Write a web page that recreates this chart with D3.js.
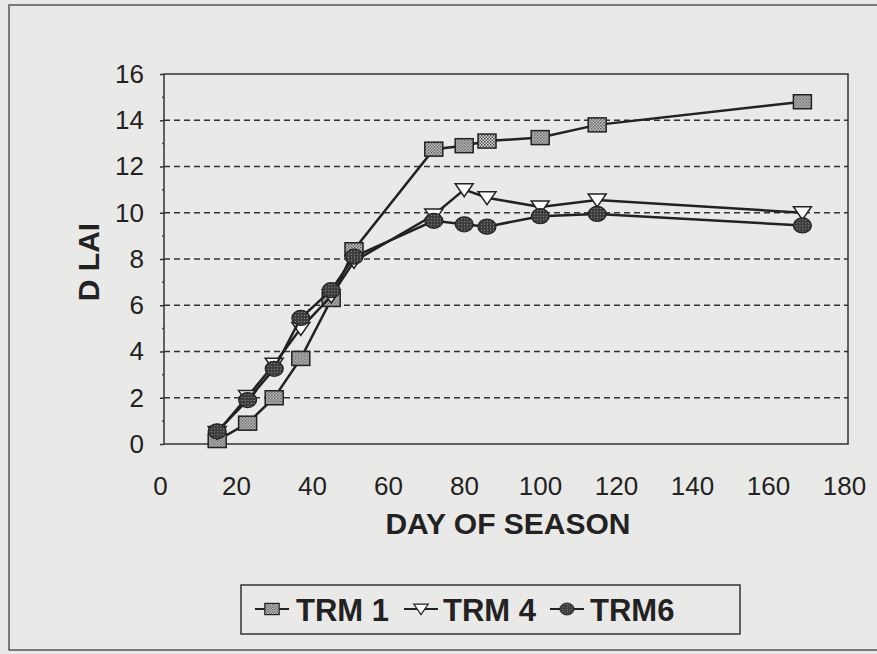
<!DOCTYPE html>
<html>
<head>
<meta charset="utf-8">
<script src="https://cdn.jsdelivr.net/npm/d3@7"></script>
<style>
  body { margin: 0; background: #e9e9e7; }
  svg { display: block; }
</style>
</head>
<body>
<div id="chart"></div>
<script>
// Data
const days = [14, 22, 29, 36, 44, 50, 71, 79, 85, 99, 114, 168];
const trm1 = [0.15, 0.9, 2.0, 3.7, 6.25, 8.4, 12.75, 12.9, 13.1, 13.25, 13.8, 14.8];
const trm4 = [0.5, 2.05, 3.45, 5.0, 6.4, 7.9, 9.9, 11.0, 10.65, 10.25, 10.55, 10.0];
const trm6 = [0.55, 1.9, 3.25, 5.45, 6.65, 8.1, 9.65, 9.5, 9.4, 9.85, 9.95, 9.45];
const seriesNames = ['TRM 1', 'TRM 4', 'TRM6'];
const xTicks = [0, 20, 40, 60, 80, 100, 120, 140, 160, 180];
const yTicks = [0, 2, 4, 6, 8, 10, 12, 14, 16];

const width = 877, height = 654;
const plot = { left: 164, top: 74, right: 848, bottom: 444 };
const ink = '#222';

const svg = d3.select('#chart')
    .append('svg')
    .attr('width', width)
    .attr('height', height);

// Fill patterns for the markers
const defs = svg.append('defs');
const sq = defs.append('pattern')
    .attr('id', 'sqfill')
    .attr('width', 3).attr('height', 3)
    .attr('patternUnits', 'userSpaceOnUse');
sq.append('rect').attr('width', 3).attr('height', 3).attr('fill', '#e4e4e2');
sq.append('rect').attr('width', 1.5).attr('height', 1.5).attr('fill', '#3a3a3a');
sq.append('rect').attr('x', 1.5).attr('y', 1.5).attr('width', 1.5).attr('height', 1.5).attr('fill', '#555');

const ci = defs.append('pattern')
    .attr('id', 'cifill')
    .attr('width', 3).attr('height', 3)
    .attr('patternUnits', 'userSpaceOnUse');
ci.append('rect').attr('width', 3).attr('height', 3).attr('fill', '#3c3c3c');
ci.append('rect').attr('width', 1).attr('height', 1).attr('fill', '#9a9a9a');

// Outer frame
svg.append('rect')
    .attr('x', 9).attr('y', 5)
    .attr('width', width + 10).attr('height', 645)
    .attr('fill', 'none')
    .attr('stroke', '#555')
    .attr('stroke-width', 1.5);

// Scales
const x = d3.scaleLinear().domain([0, 180]).range([plot.left, plot.right]);
const y = d3.scaleLinear().domain([0, 16]).range([plot.bottom, plot.top]);

// Dashed gridlines
svg.append('g')
    .selectAll('line')
    .data(yTicks.filter(v => v > 0 && v < 16))
    .enter()
    .append('line')
    .attr('x1', plot.left).attr('x2', plot.right)
    .attr('y1', d => y(d)).attr('y2', d => y(d))
    .attr('stroke', '#333')
    .attr('stroke-width', 1.5)
    .attr('stroke-dasharray', '6,4');

// Plot box
svg.append('rect')
    .attr('x', plot.left).attr('y', plot.top)
    .attr('width', plot.right - plot.left)
    .attr('height', plot.bottom - plot.top)
    .attr('fill', 'none')
    .attr('stroke', '#333')
    .attr('stroke-width', 1.5);

// Y axis
const yAxis = svg.append('g')
    .attr('transform', `translate(${plot.left},0)`)
    .call(d3.axisLeft(y).tickValues(yTicks).tickSize(4).tickPadding(16));
yAxis.select('.domain').remove();
yAxis.selectAll('line').attr('stroke', '#333').attr('stroke-width', 1.5);
yAxis.selectAll('text')
    .attr('font-family', 'Liberation Sans, Arial, sans-serif')
    .attr('font-size', '26px')
    .attr('fill', ink);

// minor ticks on y
svg.append('g')
    .selectAll('line')
    .data(d3.range(1, 16, 2))
    .enter()
    .append('line')
    .attr('x1', plot.left - 2).attr('x2', plot.left)
    .attr('y1', d => y(d)).attr('y2', d => y(d))
    .attr('stroke', '#444')
    .attr('stroke-width', 1.5);

// X axis (labels only, as in the figure)
const xAxis = svg.append('g')
    .attr('transform', `translate(-4,${plot.bottom})`)
    .call(d3.axisBottom(x).tickValues(xTicks).tickSize(0).tickPadding(33));
xAxis.select('.domain').remove();
xAxis.selectAll('text')
    .attr('font-family', 'Liberation Sans, Arial, sans-serif')
    .attr('font-size', '26px')
    .attr('fill', ink);

// Axis titles
svg.append('text')
    .attr('x', 508).attr('y', 534)
    .attr('text-anchor', 'middle')
    .attr('font-family', 'Liberation Sans, Arial, sans-serif')
    .attr('font-weight', 'bold')
    .attr('font-size', '30px')
    .attr('fill', ink)
    .text('DAY OF SEASON');

svg.append('text')
    .attr('transform', 'translate(99,262) rotate(-90)')
    .attr('text-anchor', 'middle')
    .attr('font-family', 'Liberation Sans, Arial, sans-serif')
    .attr('font-weight', 'bold')
    .attr('font-size', '30px')
    .attr('fill', ink)
    .text('D LAI');

// Marker drawing
function drawMarker(g, kind) {
    if (kind === 0) {
        g.append('rect')
            .attr('x', -9).attr('y', -7).attr('width', 18).attr('height', 14)
            .attr('fill', 'url(#sqfill)')
            .attr('stroke', ink).attr('stroke-width', 1.5);
    } else if (kind === 1) {
        g.append('path')
            .attr('d', 'M-9,-6 L9,-6 L0,7 Z')
            .attr('fill', '#fbfbfb')
            .attr('stroke', ink).attr('stroke-width', 1.5);
    } else {
        g.append('ellipse')
            .attr('rx', 9).attr('ry', 7.5)
            .attr('fill', 'url(#cifill)')
            .attr('stroke', ink).attr('stroke-width', 1.2);
    }
}

const series = [trm1, trm4, trm6];
const line = d3.line()
    .x(d => x(d[0]))
    .y(d => y(d[1]));

series.forEach((vals, k) => {
    const pts = days.map((d, i) => [d, vals[i]]);
    const g = svg.append('g');
    g.append('path')
        .datum(pts)
        .attr('d', line)
        .attr('fill', 'none')
        .attr('stroke', ink)
        .attr('stroke-width', 2.5);
    g.selectAll('g.mk')
        .data(pts)
        .enter()
        .append('g')
        .attr('class', 'mk')
        .attr('transform', d => `translate(${x(d[0])},${y(d[1])})`)
        .each(function() { drawMarker(d3.select(this), k); });
});

// Legend
const legend = svg.append('g');
legend.append('rect')
    .attr('x', 241).attr('y', 585)
    .attr('width', 499).attr('height', 49)
    .attr('fill', 'none')
    .attr('stroke', '#333')
    .attr('stroke-width', 1.5);

const legendX = [255, 404, 550];
const legendTextX = [296, 443, 590];
seriesNames.forEach((name, k) => {
    const row = legend.append('g');
    row.append('line')
        .attr('x1', legendX[k]).attr('x2', legendX[k] + 34)
        .attr('y1', 609).attr('y2', 609)
        .attr('stroke', ink).attr('stroke-width', 2);
    const m = row.append('g')
        .attr('transform', `translate(${legendX[k] + 17},609) scale(0.8)`);
    drawMarker(m, k);
    row.append('text')
        .attr('x', legendTextX[k]).attr('y', 621)
        .attr('font-family', 'Liberation Sans, Arial, sans-serif')
        .attr('font-weight', 'bold')
        .attr('font-size', '31px')
        .attr('fill', ink)
        .text(name);
});
</script>
</body>
</html>
